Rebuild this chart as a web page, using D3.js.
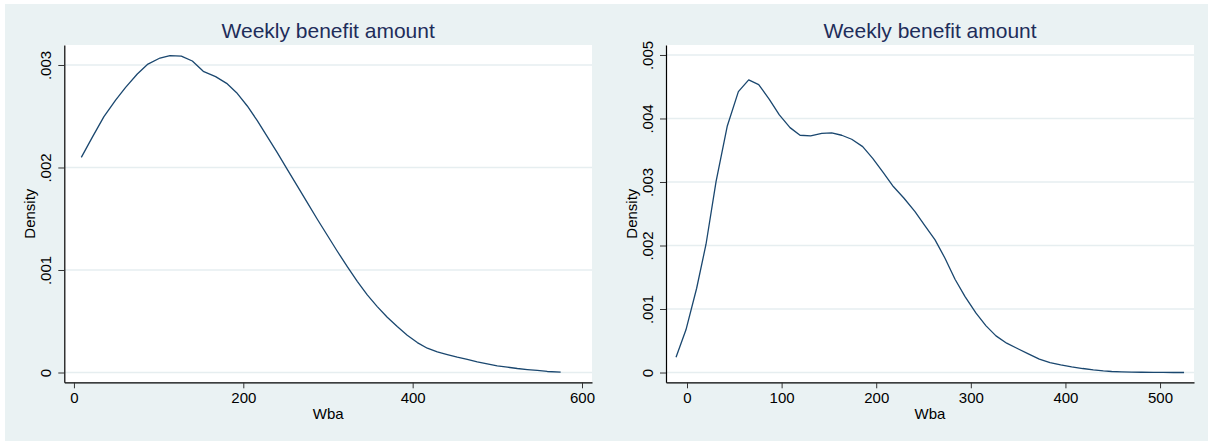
<!DOCTYPE html>
<html>
<head>
<meta charset="utf-8">
<script src="https://cdn.jsdelivr.net/npm/d3@7"></script>
<style>
  html, body { margin: 0; padding: 0; background: #ffffff; }
  svg { display: block; }
  text { font-family: "Liberation Sans", Arial, Helvetica, sans-serif; }
</style>
</head>
<body>
<svg id="chart" width="1208" height="441"></svg>
<script>
// Kernel density estimates of the weekly benefit amount, two samples.
const titleText = "Weekly benefit amount";
const xTitle = "Wba";
const yTitle = "Density";

// Left sample
const leftWba = [8.7, 21.6, 35.4, 49.2, 61.0, 74.8, 87.4, 101.6, 113.4, 126.8,
  139.8, 152.7, 167.3, 180.3, 192.1, 204.7, 216.5, 228.3, 240.1, 251.9,
  263.7, 275.6, 287.4, 299.2, 311.0, 322.8, 334.6, 346.4, 358.2, 370.0,
  381.8, 393.6, 405.5, 417.3, 429.1, 440.9, 452.7, 464.5, 476.3, 488.1,
  499.9, 511.8, 523.6, 535.4, 547.2, 559.0, 574.8];
const leftDensity = [0.002099, 0.002294, 0.002496, 0.002658, 0.002782, 0.002912, 0.003009, 0.003068, 0.003091, 0.003087,
  0.003039, 0.002938, 0.002886, 0.002821, 0.002730, 0.002600, 0.002457, 0.002301, 0.002145, 0.001982,
  0.001820, 0.001657, 0.001495, 0.001339, 0.001183, 0.001033, 0.000890, 0.000757, 0.000643, 0.000539,
  0.000448, 0.000364, 0.000292, 0.000237, 0.000201, 0.000175, 0.000149, 0.000127, 0.000104, 0.000085,
  0.000065, 0.000052, 0.000039, 0.000029, 0.000020, 0.000010, 0.000003];
const leftWbaTicks = [0, 200, 400, 600];
const leftDensityTicks = [0, 0.001, 0.002, 0.003];

// Right sample
const rightWba = [-11.6, -1.1, 10.2, 20.1, 30.7, 42.6, 54.3, 65.2, 75.8, 87.0,
  97.6, 108.9, 119.5, 130.7, 142.4, 152.9, 163.5, 174.1, 185.7, 196.3,
  207.5, 218.1, 229.4, 241.0, 251.6, 262.2, 272.7, 283.3, 293.9, 305.5,
  316.1, 326.6, 337.9, 349.2, 360.8, 372.4, 383.7, 395.0, 406.6, 418.3,
  429.5, 440.1, 448.9, 459.4, 470.0, 480.6, 492.9, 503.5, 514.1, 525.4];
const rightDensity = [0.000241, 0.000672, 0.001327, 0.002020, 0.003006, 0.003882, 0.004423, 0.004607, 0.004533, 0.004302,
  0.004056, 0.003856, 0.003736, 0.003725, 0.003767, 0.003772, 0.003736, 0.003673, 0.003557, 0.003373,
  0.003148, 0.002928, 0.002744, 0.002534, 0.002308, 0.002088, 0.001800, 0.001469, 0.001196, 0.000934,
  0.000735, 0.000577, 0.000462, 0.000378, 0.000294, 0.000210, 0.000157, 0.000121, 0.000089, 0.000063,
  0.000042, 0.000026, 0.000016, 0.000010, 0.000005, 0.000004, 0.000002, 0.000001, 0.0000005, 0.0000002];
const rightWbaTicks = [0, 100, 200, 300, 400, 500];
const rightDensityTicks = [0, 0.001, 0.002, 0.003, 0.004, 0.005];

const BG = "#eaf2f3";
const GRID = "#e6eef0";
const LINE = "rgb(26,71,111)";
const TITLE = "rgb(30,45,90)";

const svg = d3.select("#chart");

// graph region background
svg.append("rect")
  .attr("x", 5).attr("y", 4)
  .attr("width", 1203).attr("height", 437)
  .attr("fill", BG);

function densityLabel(d) {
  if (d === 0) return "0";
  return d3.format(".3f")(d).replace(/^0/, "");
}

function drawPanel(cfg) {
  const { left, right, top, bottom } = cfg.box;
  const g = svg.append("g");

  const x = d3.scaleLinear().domain(cfg.xDomain).range([left, right]);
  const y = d3.scaleLinear().domain(cfg.yDomain).range([bottom, top]);

  // plot region
  g.append("rect")
    .attr("x", left).attr("y", top)
    .attr("width", right - left).attr("height", bottom - top)
    .attr("fill", "#ffffff");

  // horizontal grid lines
  g.append("g").selectAll("line")
    .data(cfg.yTicks)
    .join("line")
    .attr("x1", left).attr("x2", right)
    .attr("y1", d => y(d)).attr("y2", d => y(d))
    .attr("stroke", GRID)
    .attr("stroke-width", 1.5);

  // density curve
  const pts = cfg.xs.map((v, i) => [v, cfg.ys[i]]);
  g.append("path")
    .datum(pts)
    .attr("fill", "none")
    .attr("stroke", LINE)
    .attr("stroke-width", 1.3)
    .attr("stroke-linejoin", "round")
    .attr("d", d3.line().x(d => x(d[0])).y(d => y(d[1])));

  // x axis
  const xAxis = g.append("g")
    .attr("transform", `translate(0,${bottom})`)
    .call(d3.axisBottom(x).tickValues(cfg.xTicks).tickSize(6).tickSizeOuter(0).tickFormat(d3.format("d")));
  xAxis.select(".domain").attr("stroke", "#000").attr("stroke-width", 1.2);
  xAxis.selectAll(".tick line").attr("stroke", "#333");
  xAxis.selectAll(".tick text")
    .attr("y", 20.5).attr("dy", 0)
    .attr("fill", "#000")
    .style("font-size", "15px")
    .style("font-family", "'Liberation Sans', Arial, sans-serif");

  // y axis
  const yAxis = g.append("g")
    .attr("transform", `translate(${left},0)`)
    .call(d3.axisLeft(y).tickValues(cfg.yTicks).tickSize(6).tickSizeOuter(0).tickFormat(densityLabel));
  yAxis.select(".domain").attr("stroke", "#000").attr("stroke-width", 1.2);
  yAxis.selectAll(".tick line").attr("stroke", "#333");
  yAxis.selectAll(".tick text")
    .attr("x", null).attr("dy", 0)
    .attr("text-anchor", "middle")
    .attr("transform", "translate(-13.3,0) rotate(-90)")
    .attr("fill", "#000")
    .style("font-size", "15px")
    .style("font-family", "'Liberation Sans', Arial, sans-serif");

  const cx = (left + right) / 2;
  const cy = (top + bottom) / 2;

  // title
  g.append("text")
    .attr("x", cx).attr("y", 37.5)
    .attr("text-anchor", "middle")
    .attr("fill", TITLE)
    .style("font-size", "21px")
    .text(titleText);

  // axis titles
  g.append("text")
    .attr("x", cx).attr("y", 418.5)
    .attr("text-anchor", "middle")
    .attr("fill", "#000")
    .style("font-size", "15px")
    .text(xTitle);

  g.append("text")
    .attr("transform", `translate(${left - 29},${cy}) rotate(-90)`)
    .attr("text-anchor", "middle")
    .attr("fill", "#000")
    .style("font-size", "15px")
    .text(yTitle);
}

drawPanel({
  box: { left: 64.3, right: 592, top: 45, bottom: 382.3 },
  xDomain: [-11.4, 611.8],
  yDomain: [-0.0000956, 0.003195],
  xs: leftWba, ys: leftDensity,
  xTicks: leftWbaTicks, yTicks: leftDensityTicks
});

drawPanel({
  box: { left: 666, right: 1194, top: 45, bottom: 382.3 },
  xDomain: [-22.2, 535.9],
  yDomain: [-0.000154, 0.005157],
  xs: rightWba, ys: rightDensity,
  xTicks: rightWbaTicks, yTicks: rightDensityTicks
});
</script>
</body>
</html>
